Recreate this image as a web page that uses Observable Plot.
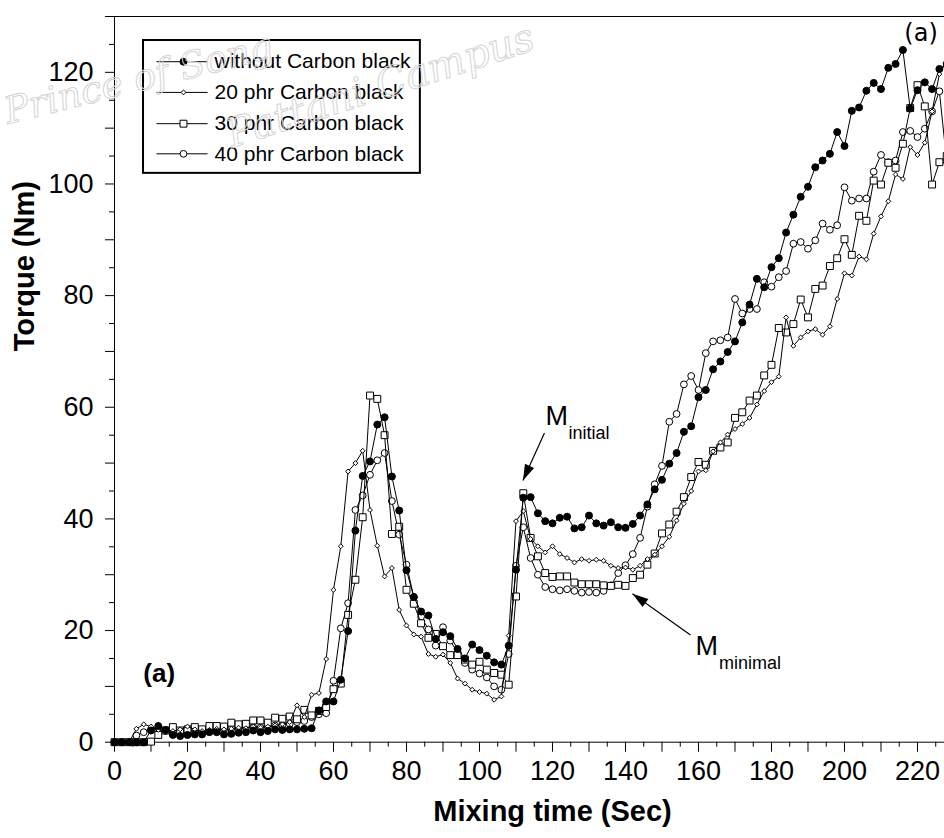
<!DOCTYPE html>
<html>
<head>
<meta charset="utf-8">
<script src="https://cdn.jsdelivr.net/npm/d3@7"></script>
<script src="https://cdn.jsdelivr.net/npm/@observablehq/plot@0.6"></script>
<style>
html, body { margin: 0; padding: 0; background: #fff; }
#chart { position: relative; width: 944px; height: 838px; overflow: hidden; background: #fff; }
#wm { position: absolute; left: 0; top: 0; pointer-events: none; }
</style>
</head>
<body>
<div id="chart"></div>
<script>
// Mixing time (s), sampled every 2 s
const times = [0,2,4,6,8,10,12,14,16,18,20,22,24,26,28,30,32,34,36,38,40,42,44,46,48,50,52,54,56,58,60,62,64,66,68,70,72,74,76,78,80,82,84,86,88,90,92,94,96,98,100,102,104,106,108,110,112,114,116,118,120,122,124,126,128,130,132,134,136,138,140,142,144,146,148,150,152,154,156,158,160,162,164,166,168,170,172,174,176,178,180,182,184,186,188,190,192,194,196,198,200,202,204,206,208,210,212,214,216,218,220,222,224,226,228];

const torqueWithout = [0,0,0,0,0,2.1,2.9,2.2,1.3,1.1,1.3,1.4,1.4,1.8,1.8,1.4,1.5,1.7,1.8,2.1,1.8,2.0,2.3,2.2,2.3,2.3,2.4,2.5,5.7,7.3,7.3,11.2,19.9,37.9,47.7,50.3,56.9,58.2,47.6,41.5,30.8,26.0,23.4,22.7,18.5,19.7,19.0,16.7,15.0,17.5,16.5,15.5,14.3,13.9,17.3,30.9,43.8,43.9,41.0,39.6,39.2,40.2,40.4,38.3,38.5,40.6,39.2,38.8,39.4,38.5,38.4,39.1,40.6,42.6,45.3,47.0,49.9,51.8,55.6,56.6,61.8,63.1,66.8,68.2,69.9,71.8,75.2,78.4,83.0,81.5,85.1,86.7,91.3,94.5,97.7,99.5,103.0,104.2,105.4,109.3,106.8,113.1,113.7,116.7,118.1,117.0,120.8,121.5,124.0,113.5,116.8,118.2,117.0,120.6,121.5];

const torque20 = [0,0,0,2.4,3.2,2.8,2.2,1.9,2.0,2.3,2.8,2.3,2.0,2.2,2.4,2.3,2.4,2.6,2.5,2.8,2.6,2.8,3.0,3.2,3.6,6.6,4.5,8.5,8.8,14.9,27.3,35.1,48.5,50.0,52.2,41.6,35.2,29.7,31.2,23.7,20.9,19.3,18.9,15.8,15.3,15.7,14.2,11.4,10.5,9.4,9.0,8.7,7.6,8.2,19.1,39.6,41.4,36.4,35.1,34.0,35.1,33.7,33.0,32.2,32.8,32.5,32.7,32.5,31.6,31.2,31.3,30.9,31.6,32.8,33.6,35.1,36.8,39.7,42.7,45.0,48.5,48.7,52.1,53.7,55.1,56.1,57.0,58.1,60.5,62.9,64.5,65.5,76.1,71.0,72.5,73.6,74.0,73.0,74.5,79.4,84.0,83.6,87.0,86.5,91.1,94.2,96.9,101.7,100.9,106.6,105.2,107.4,113.0,119.7,122.0];

const torque30 = [0,0,0,0,0,0.1,1.3,2.1,2.7,2.1,2.3,2.7,2.3,2.9,2.9,2.8,3.5,3.2,3.3,3.9,3.9,3.5,4.4,4.2,4.6,4.1,5.8,4.8,5.6,6.3,9.5,10.5,22.8,29.1,40.3,62.1,61.5,55.0,37.3,38.6,27.3,24.8,21.3,18.7,19.4,17.2,15.6,15.6,14.8,13.9,14.4,13.0,12.4,12.1,10.3,26.1,44.6,36.6,33.3,30.3,29.6,29.7,29.7,28.6,28.3,28.3,28.3,28.1,28.0,28.2,28.0,29.4,30.0,31.8,33.8,37.4,39.0,41.3,43.9,47.5,50.2,49.7,52.2,52.8,53.7,58.1,59.1,61.2,62.1,65.7,67.6,74.2,73.4,74.9,79.3,76.1,81.2,81.8,85.3,86.7,90.1,87.3,94.3,93.4,100.6,99.9,103.8,102.9,107.2,113.6,117.7,113.9,99.9,103.9,105.0];

const torque40 = [0,0,0,1.2,1.8,2.3,2.6,2.0,1.8,1.8,2.0,2.1,2.0,2.3,2.3,2.2,2.4,2.5,2.6,2.7,2.6,2.8,3.0,3.0,3.3,3.6,3.8,4.5,5.0,5.2,11.0,20.4,24.9,41.6,44.2,47.9,50.5,51.8,43.2,37.2,31.8,26.0,22.5,20.2,17.3,20.6,18.2,16.0,14.2,13.0,12.3,11.6,10.0,9.4,15.8,31.6,38.5,33.0,30.0,27.8,27.4,27.2,27.4,27.1,26.8,26.9,26.8,27.1,28.1,30.3,31.7,33.7,36.6,42.2,46.2,49.5,57.4,58.8,64.1,65.6,63.1,69.7,71.8,72.0,72.5,79.4,76.8,77.6,77.6,82.4,81.6,83.3,84.4,89.3,89.6,88.4,89.9,92.9,91.8,92.6,99.4,97.0,97.4,97.4,102.2,105.2,103.9,104.2,109.3,109.5,108.4,109.9,113.0,116.6,104.0];

const seriesNames = ["without Carbon black", "20 phr Carbon black", "30 phr Carbon black", "40 phr Carbon black"];
const seriesValues = [torqueWithout, torque20, torque30, torque40];

// tick values
const xLabelTicks = [0,20,40,60,80,100,120,140,160,180,200,220];
const xMajorTicks = [0,10,20,30,40,50,60,70,80,90,100,110,120,130,140,150,160,170,180,190,200,210,220];
const xMinorTicks = [5,15,25,35,45,55,65,75,85,95,105,115,125,135,145,155,165,175,185,195,205,215,225];
const yLabelTicks = [0,20,40,60,80,100,120];
const yMajorTicks = [0,10,20,30,40,50,60,70,80,90,100,110,120,130];
const yMinorTicks = [5,15,25,35,45,55,65,75,85,95,105,115,125];

// annotations (data units)
const annotationTexts = [
  {x: 118.1, y: 58.3, text: "M", size: 27},
  {x: 124.4, y: 55.4, text: "initial", size: 18},
  {x: 159.2, y: 17.1, text: "M", size: 27},
  {x: 165.6, y: 14.2, text: "minimal", size: 18}
];
const arrows = [
  {x1: 117.8, y1: 55.4, x2: 111.9, y2: 46.9},
  {x1: 157.8, y1: 19.2, x2: 141.9, y2: 26.6}
];
// legend layout (data units)
const legendBox = {x1: 7.95, x2: 83.8, y1: 101.9, y2: 125.7};
const legendRowsY = [121.9, 116.4, 110.8, 105.4];
const legendLine = {x1: 11.5, x2: 25.5, xm: 18.9, xt: 27.4};

const xMax = 227.4, yMax = 130;
const W = 944, H = 838, mL = 114, mR = 0, mT = 16, mB = 96.3;
const pxPerX = (W - mL - mR) / xMax, pxPerY = (H - mT - mB) / yMax;

const styles = [
  {symbol: "circle", fill: "black", r: 3.5},
  {symbol: "diamond2", fill: "white", r: 2.2},
  {symbol: "square", fill: "white", r: 3.9},
  {symbol: "circle", fill: "white", r: 3.4}
];

const rows = seriesNames.flatMap((s, i) => times.map((t, j) => ({t, v: seriesValues[i][j], s, i})));

const arrowHead = {
  draw(context) {
    const L = 16, w = 10;
    context.moveTo(0, 0);
    context.lineTo(-w / 2, L);
    context.lineTo(w / 2, L);
    context.closePath();
  }
};
const arrowData = arrows.map(a => ({...a,
  angle: Math.atan2(-(a.y2 - a.y1) * pxPerY, (a.x2 - a.x1) * pxPerX) * 180 / Math.PI + 90}));

const legendData = seriesNames.map((s, i) => ({s, i, y: legendRowsY[i]}));

const drawOrder = [3, 2, 1, 0];
const seriesMarks = drawOrder.flatMap(i => {
  const d = rows.filter(r => r.i === i);
  return [
    Plot.line(d, {x: "t", y: "v", stroke: "black", strokeWidth: 1}),
    Plot.dot(d, {x: "t", y: "v", symbol: styles[i].symbol, r: styles[i].r, fill: styles[i].fill, stroke: "black", strokeWidth: 1})
  ];
});

const legendMarks = [
  Plot.rect([legendBox], {x1: "x1", x2: "x2", y1: "y1", y2: "y2", fill: "white", stroke: "black", strokeWidth: 2}),
  Plot.link(legendData, {x1: () => legendLine.x1, x2: () => legendLine.x2, y1: "y", y2: "y", stroke: "black", strokeWidth: 1}),
  ...legendData.map(d => Plot.dot([d], {x: () => legendLine.xm, y: "y", symbol: styles[d.i].symbol, r: styles[d.i].r, fill: styles[d.i].fill, stroke: "black", strokeWidth: 1})),
  Plot.text(legendData, {x: () => legendLine.xt, y: "y", text: "s", textAnchor: "start", fontSize: 21, fill: "black"})
];

const chart = Plot.plot({
  width: W, height: H,
  marginLeft: mL, marginRight: mR, marginTop: mT, marginBottom: mB,
  x: {domain: [0, xMax]},
  y: {domain: [0, yMax]},
  style: {fontFamily: "'Liberation Sans', Arial, Helvetica, sans-serif", fontSize: "27px", color: "black", background: "white"},
  marks: [
    Plot.ruleX([0], {stroke: "black", strokeWidth: 1}),
    Plot.ruleY([0], {stroke: "black", strokeWidth: 1}),
    Plot.ruleY([yMax], {stroke: "black", strokeWidth: 1}),
    Plot.axisX({ticks: xMajorTicks, tickSize: 10, tickFormat: () => "", label: null}),
    Plot.axisX({ticks: xMinorTicks, tickSize: 5, tickFormat: () => "", label: null}),
    Plot.axisY({ticks: yMajorTicks, tickSize: 9, tickFormat: () => "", label: null}),
    Plot.axisY({ticks: yMinorTicks, tickSize: 5, tickFormat: () => "", label: null}),
    // tick labels
    Plot.text(xLabelTicks, {x: d => d, frameAnchor: "bottom", dy: 37.7, text: d => String(d), fontSize: 27, fill: "black"}),
    Plot.text(yLabelTicks, {y: d => d, frameAnchor: "left", dx: -21, textAnchor: "end", text: d => String(d), fontSize: 27, fill: "black"}),
    // axis titles
    Plot.text(["Mixing time (Sec)"], {frameAnchor: "bottom", dx: 23, dy: 79, fontWeight: "bold", fontSize: 29, fill: "black"}),
    Plot.text(["Torque (Nm)"], {frameAnchor: "left", dx: -89.5, dy: -28, rotate: -90, fontWeight: "bold", fontSize: 29, fill: "black"}),
    ...seriesMarks,
    ...legendMarks,
    Plot.link(arrowData, {x1: "x1", y1: "y1", x2: "x2", y2: "y2", stroke: "black", strokeWidth: 1.2}),
    Plot.dot(arrowData, {x: "x2", y: "y2", symbol: arrowHead, rotate: "angle", fill: "black", stroke: "none", r: 5}),
    Plot.text(annotationTexts, {x: "x", y: "y", text: "text", fontSize: "size", textAnchor: "start", fill: "black"}),
    Plot.text(["(a)"], {x: () => 7.9, y: () => 12.2, textAnchor: "start", fontWeight: "bold", fontSize: 26, fill: "black"}),
    Plot.text(["(a)"], {x: () => 216.4, y: () => 126.9, textAnchor: "start", fontSize: 24, fontFamily: "'DejaVu Sans', sans-serif", fill: "black"})
  ]
});

const container = document.getElementById("chart");
container.appendChild(chart);

// faint watermark overlay
const wm = d3.select(container).append("svg").attr("id", "wm").attr("width", W).attr("height", H);
const wmTexts = [
  {text: "Prince of Song", x: 8, y: 124, rot: -14, size: 37},
  {text: "Pattani Campus", x: 232, y: 148, rot: -18, size: 40}
];
wm.selectAll("text").data(wmTexts).join("text")
  .attr("transform", d => `translate(${d.x},${d.y}) rotate(${d.rot})`)
  .attr("font-family", "'DejaVu Serif', serif")
  .attr("font-style", "italic")
  .attr("font-size", d => d.size)
  .attr("fill", "none")
  .attr("stroke", "#d4d4d4")
  .attr("stroke-width", 1)
  .text(d => d.text);
</script>
</body>
</html>
